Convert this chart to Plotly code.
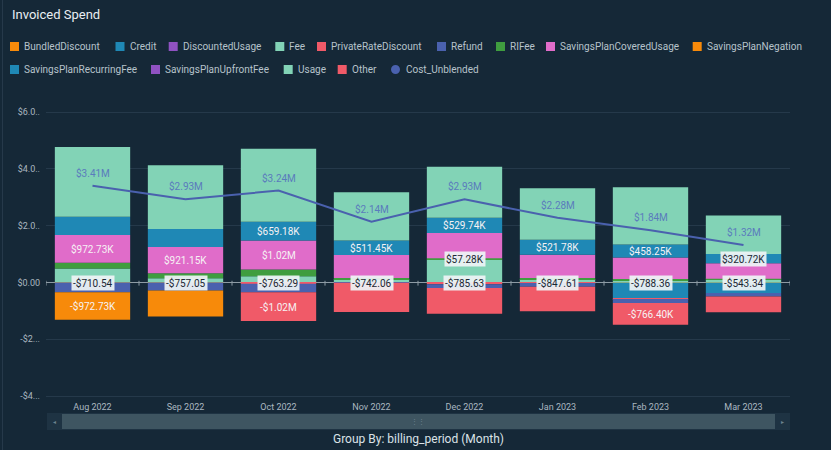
import plotly.graph_objects as go

# ---------------- data ----------------
months = ["Aug 2022", "Sep 2022", "Oct 2022", "Nov 2022", "Dec 2022", "Jan 2023", "Feb 2023", "Mar 2023"]

bundled_discount = [-710.54, -757.05, -763.29, -742.06, -785.63, -847.61, -788.36, -543.34]
credit = [0, 0, 0, 0, 0, 0, -550000, -370000]
discounted_usage = [0, 0, 0, 0, 0, 0, 0, 0]
fee = [490000, 150000, 220000, 120000, 800000, 120000, 80000, 100000]
private_rate_discount = [0, 0, -40000, 0, -60000, -20000, -35000, 0]
refund = [-340000, -280000, -300000, -10000, -130000, -130000, -140000, -120000]
ri_fee = [210000, 180000, 240000, 40000, 57280, 40000, 40000, 30000]
sp_covered_usage = [972730, 921150, 1020000, 810000, 890000, 820000, 760000, 550000]
sp_negation = [-972730, -921150, 0, 0, 0, 0, 0, 0]
sp_recurring_fee = [640000, 630000, 659180, 511450, 529740, 521780, 458250, 320720]
sp_upfront_fee = [0, 0, 0, 0, 0, 0, 0, 0]
usage = [2460000, 2250000, 2570000, 1700000, 1800000, 1820000, 2020000, 1360000]
other = [0, 0, -1020000, -1030000, -910000, -860000, -766400, -560000]
cost_unblended = [3410000, 2930000, 3240000, 2140000, 2930000, 2280000, 1840000, 1320000]

ytick_vals = [-4e6, -2e6, 0, 2e6, 4e6, 6e6]
ytick_text = ["-$4...", "-$2...", "$0.00", "$2.0..", "$4.0..", "$6.0.."]

# which segments carry a value label: "in" = inside text, "box" = boxed label
label_style = {
    "BundledDiscount": ["box"] * 8,
    "SavingsPlanCoveredUsage": ["in", "in", "in", None, None, None, None, None],
    "SavingsPlanRecurringFee": [None, None, "in", "in", "in", "in", "in", "box"],
    "RIFee": [None, None, None, None, "box", None, None, None],
    "SavingsPlanNegation": ["in", None, None, None, None, None, None, None],
    "Other": [None, None, "in", None, None, None, "in", None],
}

# ---------------- style ----------------
BG = "#152837"
C_ORANGE = "#f78a0a"
C_BLUE = "#1f88b5"
C_PURPLE = "#8f52c2"
C_MINT = "#82d3b6"
C_RED = "#f05a68"
C_DBLUE = "#4a61ae"
C_GREEN = "#3f9d3f"
C_PINK = "#e06cc9"

series = [
    ("BundledDiscount", bundled_discount, C_ORANGE),
    ("Credit", credit, C_BLUE),
    ("DiscountedUsage", discounted_usage, C_PURPLE),
    ("Fee", fee, C_MINT),
    ("PrivateRateDiscount", private_rate_discount, C_RED),
    ("Refund", refund, C_DBLUE),
    ("RIFee", ri_fee, C_GREEN),
    ("SavingsPlanCoveredUsage", sp_covered_usage, C_PINK),
    ("SavingsPlanNegation", sp_negation, C_ORANGE),
    ("SavingsPlanRecurringFee", sp_recurring_fee, C_BLUE),
    ("SavingsPlanUpfrontFee", sp_upfront_fee, C_PURPLE),
    ("Usage", usage, C_MINT),
    ("Other", other, C_RED),
]
LINE_COLOR = "#4a61ae"


def fmt(v):
    s = "-" if v < 0 else ""
    a = abs(v)
    if a >= 1e6:
        return f"{s}${a / 1e6:.2f}M"
    if a >= 1e3:
        return f"{s}${a / 1e3:.2f}K"
    return f"{s}${a:.2f}"


W, H = 831, 450
ML, MR, MT, MB = 46, 41, 100, 50
PW, PH = W - ML - MR, H - MT - MB


def px(x):
    return (x - ML) / PW


def py(y):
    return (H - MB - y) / PH


FONT = "Roboto"

fig = go.Figure()
for name, vals, col in series:
    fig.add_trace(go.Bar(
        x=months, y=vals, name=name, marker=dict(color=col, line=dict(width=0)),
        showlegend=False, hoverinfo="skip",
    ))

fig.add_trace(go.Scatter(
    x=months, y=cost_unblended, mode="lines", name="Cost_Unblended",
    line=dict(color=LINE_COLOR, width=2), showlegend=False, hoverinfo="skip",
))

annotations = []
shapes = []

# segment labels (computed from the stacked data)
pos_base = [0.0] * len(months)
neg_base = [0.0] * len(months)
for name, vals, col in series:
    styles = label_style.get(name)
    for i, v in enumerate(vals):
        if v >= 0:
            lo, hi = pos_base[i], pos_base[i] + v
            pos_base[i] = hi
        else:
            hi, lo = neg_base[i], neg_base[i] + v
            neg_base[i] = lo
        if styles and styles[i]:
            mid = (lo + hi) / 2
            if styles[i] == "in":
                annotations.append(dict(
                    x=months[i], y=mid, text=fmt(v), showarrow=False,
                    xanchor="center", yanchor="middle",
                    font=dict(family=FONT, size=10, color="#f6f2f4"),
                ))
            else:
                annotations.append(dict(
                    x=months[i], y=mid, text=fmt(v), showarrow=False,
                    xanchor="center", yanchor="middle",
                    font=dict(family=FONT, size=10, color="#1b2733"),
                    bgcolor="rgba(238,243,245,0.93)", borderpad=1,
                ))

# line labels
for m, v in zip(months, cost_unblended):
    annotations.append(dict(
        x=m, y=v, yshift=13, text=fmt(v), showarrow=False,
        xanchor="center", yanchor="middle",
        font=dict(family=FONT, size=10, color="#5a7bbd"),
    ))

# zero-line tick marks at category boundaries
for k in range(len(months) + 1):
    shapes.append(dict(type="line", xref="x", yref="y", x0=k - 0.5, x1=k - 0.5,
                       y0=-110000, y1=60000, line=dict(color="#8d9ba5", width=1)))

# title
annotations.append(dict(
    xref="paper", yref="paper", x=px(10), y=py(15), xanchor="left", yanchor="middle",
    text="Invoiced Spend", showarrow=False, font=dict(family=FONT, size=13, color="#e9eef2"),
))

# custom legend (swatch + text)
leg_rows = [
    (46.5, [("BundledDiscount", C_ORANGE, 10), ("Credit", C_BLUE, 115.5),
            ("DiscountedUsage", C_PURPLE, 168.7), ("Fee", C_MINT, 275.3),
            ("PrivateRateDiscount", C_RED, 317), ("Refund", C_DBLUE, 437),
            ("RIFee", C_GREEN, 496), ("SavingsPlanCoveredUsage", C_PINK, 546),
            ("SavingsPlanNegation", C_ORANGE, 692.7)]),
    (69.5, [("SavingsPlanRecurringFee", C_BLUE, 10), ("SavingsPlanUpfrontFee", C_PURPLE, 151),
            ("Usage", C_MINT, 283.7), ("Other", C_RED, 337.7)]),
]
for ry, items in leg_rows:
    for name, col, x0 in items:
        shapes.append(dict(type="rect", xref="paper", yref="paper",
                           x0=px(x0), x1=px(x0 + 9), y0=py(ry + 4.5), y1=py(ry - 4.5),
                           fillcolor=col, line=dict(width=0)))
        annotations.append(dict(
            xref="paper", yref="paper", x=px(x0 + 12), y=py(ry), xanchor="left", yanchor="middle",
            text=name, showarrow=False, font=dict(family=FONT, size=10, color="#b7c3cb"),
        ))
# Cost_Unblended circle swatch
shapes.append(dict(type="circle", xref="paper", yref="paper",
                   x0=px(391), x1=px(400), y0=py(74), y1=py(65),
                   fillcolor=LINE_COLOR, line=dict(width=0)))
annotations.append(dict(
    xref="paper", yref="paper", x=px(403.5), y=py(69.5), xanchor="left", yanchor="middle",
    text="Cost_Unblended", showarrow=False, font=dict(family=FONT, size=10, color="#b7c3cb"),
))

# scrollbar
shapes.append(dict(type="rect", xref="paper", yref="paper", x0=px(47), x1=px(790),
                   y0=py(430), y1=py(413), fillcolor="#1e3343", line=dict(width=0), layer="below"))
shapes.append(dict(type="rect", xref="paper", yref="paper", x0=px(62), x1=px(775),
                   y0=py(429), y1=py(414), fillcolor="#3e5561", line=dict(width=0)))
annotations.append(dict(
    xref="paper", yref="paper", x=px(418), y=py(421.5), text="⋮⋮", showarrow=False,
    xanchor="center", yanchor="middle",
    font=dict(family=FONT, size=7, color="#6d8390"),
))
annotations.append(dict(
    xref="paper", yref="paper", x=px(54.5), y=py(421.5), text="◂", showarrow=False,
    xanchor="center", yanchor="middle",
    font=dict(family=FONT, size=6, color="#6d8390"),
))
annotations.append(dict(
    xref="paper", yref="paper", x=px(782.5), y=py(421.5), text="▸", showarrow=False,
    xanchor="center", yanchor="middle",
    font=dict(family=FONT, size=6, color="#6d8390"),
))

# axis caption
annotations.append(dict(
    xref="paper", yref="paper", x=px(418), y=py(439), text="Group By: billing_period (Month)",
    showarrow=False, xanchor="center", yanchor="middle",
    font=dict(family=FONT, size=12, color="#dbe2e7"),
))

# left panel border
shapes.append(dict(type="line", xref="paper", yref="paper", x0=px(2.5), x1=px(2.5),
                   y0=py(0), y1=py(450), line=dict(color="#26394a", width=1)))

fig.update_layout(
    width=W, height=H, autosize=False,
    margin=dict(l=ML, r=MR, t=MT, b=MB),
    paper_bgcolor=BG, plot_bgcolor=BG,
    barmode="relative", bargap=0.19,
    showlegend=False,
    font=dict(family=FONT, color="#aab7c0"),
    annotations=annotations, shapes=shapes,
    xaxis=dict(
        type="category", showgrid=False, showline=False, ticks="",
        tickfont=dict(family=FONT, size=9, color="#aab7c0"),
        range=[-0.5, len(months) - 0.5], fixedrange=True,
    ),
    yaxis=dict(
        range=[-4.14e6, 6.43e6], tickvals=ytick_vals, ticktext=ytick_text,
        showgrid=True, gridcolor="#25394a", gridwidth=1,
        zeroline=True, zerolinecolor="#8d9ba5", zerolinewidth=1,
        showline=False, ticks="", ticklabelstandoff=5,
        tickfont=dict(family=FONT, size=9, color="#aab7c0"), fixedrange=True,
    ),
)

fig.write_html(
    "out.html",
    config={"displayModeBar": False},
    post_script="document.body.style.margin='0';document.body.style.overflow='hidden';"
                "document.body.style.background='#152837';",
)
